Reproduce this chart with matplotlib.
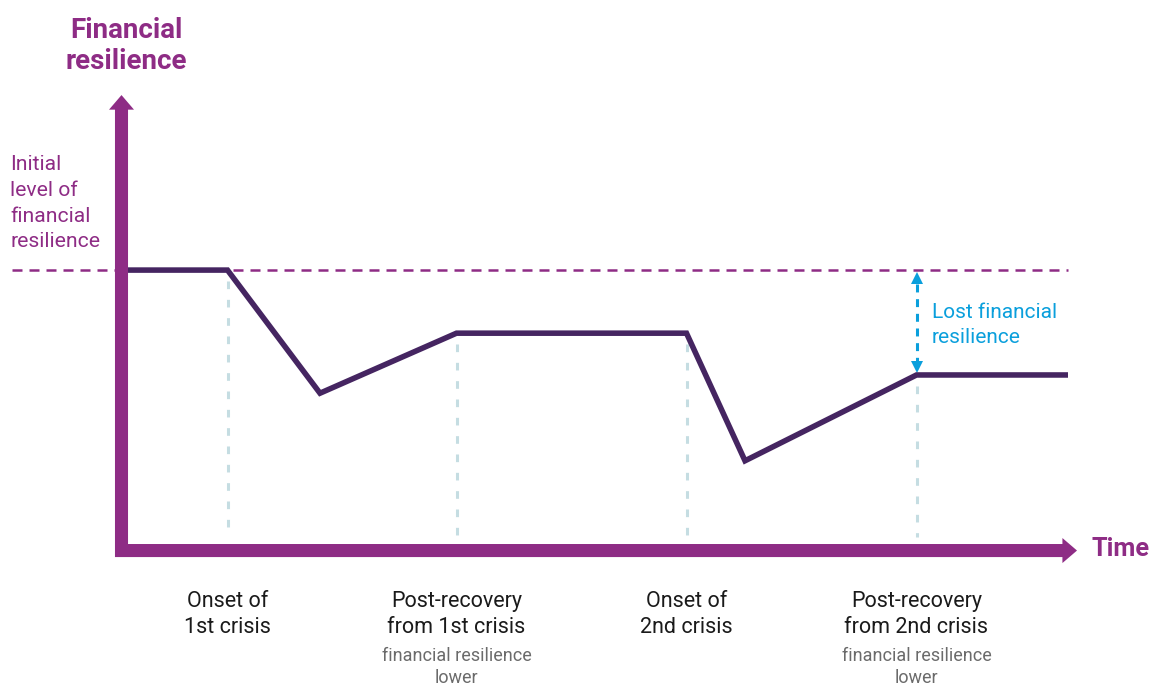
import matplotlib
matplotlib.use("Agg")
import matplotlib.pyplot as plt

plt.rcParams['font.family'] = ['Roboto', 'DejaVu Sans']

# resilience path (time in arbitrary units, resilience indexed to initial = 100)
time = [0.04, 1.06, 1.985, 3.35, 5.65, 6.235, 7.95, 9.465]
resilience = [100, 100, 56.1, 77.5, 77.5, 32.0, 62.6, 62.6]

initial_level = 100
event_times = [1.06, 3.35, 5.65, 7.95]
event_levels = [100, 77.5, 77.5, 62.6]
event_labels = ['Onset of\n1st crisis', 'Post-recovery\nfrom 1st crisis',
                'Onset of\n2nd crisis', 'Post-recovery\nfrom 2nd crisis']
event_notes = ['', 'financial resilience\nlower', '', 'financial resilience\nlower']

purple = '#8E2C85'
dark = '#452561'
pale = '#C5DDE2'
blue = '#0A9FDC'

fig = plt.figure(figsize=(11.59, 6.86), dpi=100)
ax = fig.add_axes([0, 0, 1, 1])
ax.set_xlim(-1.215, 10.375)
ax.set_ylim(-48.3, 196.3)
ax.axis('off')

# initial level reference line
ax.plot([-1.1, 9.465], [initial_level, initial_level], color=purple, lw=1.8,
        linestyle=(0, (4, 2.8)), zorder=2)

# event guides
for t, lv in zip(event_times, event_levels):
    ax.plot([t, t], [lv - 4, 4.8], color=pale, lw=2.2,
            linestyle=(0, (2.5, 3.5)), zorder=1)

# main path
ax.plot(time, resilience, color=dark, lw=4, solid_joinstyle='miter',
        solid_capstyle='butt', zorder=4)

# axes arrows
arrow = 'simple,tail_width=0.94,head_width=1.8,head_length=1.05'
ax.annotate('', xy=(0, 162.4), xytext=(0, -2.3),
            arrowprops=dict(arrowstyle=arrow, color=purple, lw=0,
                            mutation_scale=10, shrinkA=0, shrinkB=0), zorder=5)
ax.annotate('', xy=(9.555, 0), xytext=(-0.065, 0),
            arrowprops=dict(arrowstyle=arrow, color=purple, lw=0,
                            mutation_scale=10, shrinkA=0, shrinkB=0), zorder=5)

# lost resilience arrow
gap_x = event_times[-1]
ax.plot([gap_x, gap_x], [initial_level - 5, resilience[-1] + 5], color=blue,
        lw=2.2, linestyle=(0, (2.6, 2.2)), zorder=3)
ax.plot([gap_x], [initial_level - 2.8], marker='^', color=blue, ms=9, mew=0, zorder=3)
ax.plot([gap_x], [resilience[-1] + 2.8], marker='v', color=blue, ms=9, mew=0, zorder=3)
ax.text(gap_x + 0.15, (initial_level + resilience[-1]) / 2 - 0.8,
        'Lost financial\nresilience', color=blue, fontsize=15,
        ha='left', va='center', linespacing=1.42)

# labels
ax.text(0.045, 179.9, 'Financial\nresilience', color=purple, fontsize=20,
        fontweight='bold', ha='center', va='center', linespacing=1.23)
ax.text(-1.115, 123.8, 'Initial\nlevel of\nfinancial\nresilience', color=purple,
        fontsize=15.2, ha='left', va='center', linespacing=1.44)
ax.text(9.70, 0.5, 'Time', color=purple, fontsize=18.3, fontweight='bold',
        ha='left', va='center')

for t, lab, note in zip(event_times, event_labels, event_notes):
    ax.text(t, -22.8, lab, color='#1A1A1A', fontsize=15.5, ha='center',
            va='center', linespacing=1.3)
    if note:
        ax.text(t, -41.6, note, color='#6B6B6B', fontsize=13, ha='center',
                va='center', linespacing=1.3)

fig.savefig('out.png', dpi=100)
